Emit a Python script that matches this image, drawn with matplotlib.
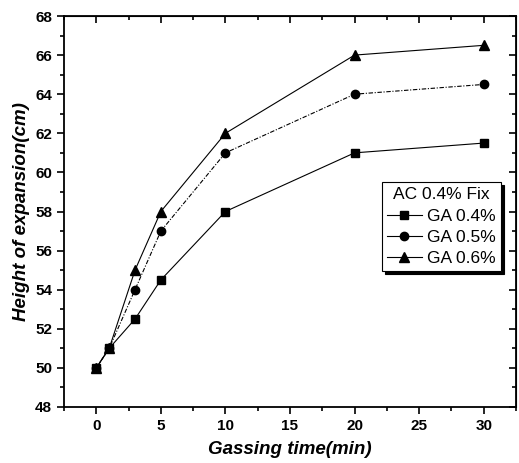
import numpy as np
import matplotlib
matplotlib.use('Agg')
import matplotlib.pyplot as plt
from matplotlib.ticker import MultipleLocator

time_min = [0, 1, 3, 5, 10, 20, 30]
ga04 = [50, 51, 52.5, 54.5, 58, 61, 61.5]
ga05 = [50, 51, 54, 57, 61, 64, 64.5]
ga06 = [50, 51, 55, 58, 62, 66, 66.5]
labels = ['GA 0.4%', 'GA 0.5%', 'GA 0.6%']

plt.rcParams['font.family'] = ['Liberation Sans', 'DejaVu Sans']

fig = plt.figure(figsize=(5.19, 4.63), dpi=100)
ax = fig.add_axes([64/519, 1-407/463, (516-64)/519, (407-16)/463])

ax.plot(time_min, ga04, color='black', lw=0.8, marker='s', ms=6, label=labels[0])
ax.plot(time_min, ga05, color='black', lw=0.8, ls=(0, (4, 1.5, 1, 1.5)), marker='o', ms=6, label=labels[1])
ax.plot(time_min, ga06, color='black', lw=0.8, marker='^', ms=7, label=labels[2])

ax.set_xlim(-2.5, 32.5)
ax.set_ylim(48, 68)
ax.xaxis.set_major_locator(MultipleLocator(5))
ax.xaxis.set_minor_locator(MultipleLocator(2.5))
ax.yaxis.set_major_locator(MultipleLocator(2))
ax.yaxis.set_minor_locator(MultipleLocator(1))

ax.tick_params(which='both', direction='out', top=False, right=False, width=1.2)
ax.tick_params(which='major', length=5, labelsize=11)
ax.tick_params(which='minor', length=3)
for lab in ax.get_xticklabels() + ax.get_yticklabels():
    lab.set_fontweight('bold')

# inward ticks on top and right
sec_x = ax.secondary_xaxis('top')
sec_x.xaxis.set_major_locator(MultipleLocator(5))
sec_x.xaxis.set_minor_locator(MultipleLocator(2.5))
sec_x.tick_params(which='both', direction='in', labeltop=False, width=1.2)
sec_x.tick_params(which='major', length=5)
sec_x.tick_params(which='minor', length=3)
sec_y = ax.secondary_yaxis('right')
sec_y.yaxis.set_major_locator(MultipleLocator(2))
sec_y.yaxis.set_minor_locator(MultipleLocator(1))
sec_y.tick_params(which='both', direction='in', labelright=False, width=1.2)
sec_y.tick_params(which='major', length=5)
sec_y.tick_params(which='minor', length=3)

for s in ax.spines.values():
    s.set_linewidth(1.3)

ax.set_xlabel('Gassing time(min)', fontsize=13.5, fontweight='bold', style='italic', labelpad=6)
ax.set_ylabel('Height of expansion(cm)', fontsize=13.5, fontweight='bold', style='italic', labelpad=4)

leg = ax.legend(title='AC 0.4% Fix', loc='upper left', bbox_to_anchor=(0.703, 0.575),
                frameon=True, fancybox=False, shadow={'color': 'black', 'alpha': 1},
                edgecolor='black', fontsize=12.5, title_fontsize=12.5,
                handlelength=2.0, borderpad=0.3, labelspacing=0.35, handletextpad=0.3,
                borderaxespad=0)
leg.get_frame().set_linewidth(0.8)
for h in leg.get_lines():
    h.set_linestyle('-')

fig.savefig('out.png', dpi=100)
